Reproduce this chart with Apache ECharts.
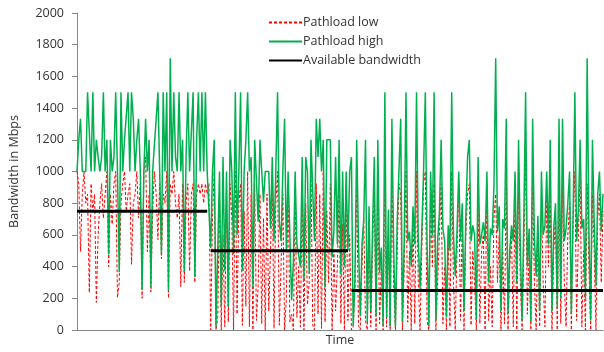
<!DOCTYPE html>
<html><head><meta charset="utf-8">
<script src="https://cdn.jsdelivr.net/npm/echarts@6/dist/echarts.min.js"></script>
<style>html,body{margin:0;padding:0;background:#fff}#c{width:604px;height:352px}</style>
</head><body><div id="c"></div>
<script>
// Pathload high estimates (Mbps)
const highSeg1 = [
1000,1200,1333,1000,1000,1000,1500,1500,1000,1500,
1000,1200,1091,1000,1091,1500,1000,1200,477,1200,
1000,1091,1500,1000,366,1500,1000,1200,1200,1500,
1000,1500,1333,1000,1200,1333,1000,255,1000,1333,
1000,1200,273,1000,1000,1333,1500,1000,483,1500,
1000,1500,249,1714,1000,1500,1091,1000,1500,1000,
1200,366,1091,1500,1000,1000,1500,335,1200,1500,
1000,1500,1000,1500,1000];
const highSeg2 = [
1000,518,1000,1200,20,500,1000,148,1091,374,
1000,148,1200,1000,480,1500,600,1000,1500,375,
1000,1200,1500,1000,1091,270,1200,1200,683,1200,
1200,806,1000,1000,1000,640,1091,560,1000,1500,
683,560,1000,1333,500,1000,1000,188,436,1000,
540,530,400,1091,318,1091,1000,354,1200,1200,
560,1333,1091,1333,1000,1200,270,1200,1200,1200,
457,620,1091,540,1200,350,1000,400,1000,500];
const highSeg3 = [
1000,1091,25,327,1200,560,87,540,700,1200,
50,780,120,640,1091,87,1200,360,520,25,
1500,80,760,25,1333,520,25,680,1000,1333,
50,560,1500,560,620,400,780,540,1500,560,
260,620,1000,1500,540,25,1000,600,1500,60,
560,740,1200,640,560,80,660,500,1500,600,
340,620,1000,560,800,120,700,1091,1200,560,
660,600,70,1091,540,600,680,560,1000,300,
640,600,900,1714,620,780,120,700,640,1333,
100,500,660,560,1000,300,1200,540,60,700,
1500,400,640,50,1333,580,340,720,120,1000,
600,660,1000,540,1200,120,640,800,140,1333,
200,1333,560,640,800,1000,100,720,1500,560,
760,1200,640,700,200,1714,620,60,1200,680,
280,860,1000,620,860];
// Pathload low estimates (Mbps)
const lowSeg1 = [
1000,923,495,857,1000,800,857,236,923,750,
857,174,600,800,923,706,857,1000,400,857,
667,923,1000,205,300,800,923,1000,750,857,
923,415,800,857,1000,706,923,200,1000,1091,
495,857,240,750,1000,857,570,923,450,857,
800,1000,200,923,857,1000,800,706,857,273,
923,300,800,923,372,857,923,300,857,923,
857,923,800,923,857];
const lowSeg2 = [
923,0,706,1000,0,80,857,0,600,20,
857,50,923,706,0,1000,100,800,923,30,
750,150,1000,20,857,0,923,60,280,857,
40,706,0,857,120,500,923,10,800,1000,
30,400,857,0,200,923,50,100,0,857,
80,400,20,923,0,800,160,300,1000,30,
0,923,100,857,10,1000,50,750,300,923,
0,500,120,400,857,40,667,0,923,60];
const lowSeg3 = [
600,0,20,250,923,30,0,400,706,60,
0,600,20,500,923,0,857,40,400,0,
1000,20,600,0,1000,300,0,500,923,857,
0,400,1000,50,500,0,706,40,1000,300,
0,500,923,1000,60,0,857,400,923,0,
300,600,923,40,400,0,600,20,1000,300,
0,500,923,60,706,0,600,857,923,30,
500,300,0,800,40,500,600,0,923,60,
400,20,706,857,300,600,0,500,40,923,
0,400,600,20,857,0,923,300,0,500,
1091,100,500,0,923,300,0,600,20,800,
300,20,857,400,857,0,500,706,0,923,
40,923,300,20,600,800,0,706,1000,60,
600,1000,20,500,0,923,400,0,857,500,
0,706,857,300,750];
// Available bandwidth: level per period and number of samples in it
const availLevels = [750, 500, 250];
const availCounts = [75, 79, 144];
const yTicks = {min: 0, max: 2000, interval: 200};
const seriesNames = ['Pathload low', 'Pathload high', 'Available bandwidth'];

const high = highSeg1.concat(highSeg2, highSeg3);
const low = lowSeg1.concat(lowSeg2, lowSeg3);
const avail = [];
availLevels.forEach((v, k) => {
  if (k > 0) avail.push(null);
  for (let j = 0; j < availCounts[k]; j++) avail.push(v);
});
const categories = high.map((_, i) => String(i + 1));

const font = "'Open Sans', 'Liberation Sans', sans-serif";
const chart = echarts.init(document.getElementById('c'), null, {renderer: 'canvas'});
chart.setOption({
  animation: false,
  backgroundColor: '#fff',
  textStyle: {fontFamily: font},
  grid: {left: 77, right: 1, top: 13, bottom: 15, containLabel: false},
  legend: {
    orient: 'vertical', left: 263, top: 11, itemWidth: 33, itemHeight: 10, itemGap: 6,
    data: seriesNames,
    itemStyle: {opacity: 0, borderWidth: 0},
    textStyle: {fontFamily: font, fontSize: 12.5, color: '#333', padding: [0,0,0,-4]}
  },
  xAxis: {
    type: 'category', data: categories, boundaryGap: false,
    name: 'Time', nameLocation: 'middle', nameGap: 4,
    nameTextStyle: {fontFamily: font, fontSize: 12.5, color: '#333'},
    axisLine: {lineStyle: {color: '#868686', width: 1}},
    axisTick: {show: false}, axisLabel: {show: false}, splitLine: {show: false}
  },
  yAxis: {
    type: 'value', min: yTicks.min, max: yTicks.max, interval: yTicks.interval,
    name: 'Bandwidth in Mbps', nameLocation: 'middle', nameGap: 56, nameRotate: 90,
    nameTextStyle: {fontFamily: font, fontSize: 12.5, color: '#333'},
    axisLine: {show: true, lineStyle: {color: '#868686', width: 1}},
    axisTick: {show: true, inside: false, length: 5, lineStyle: {color: '#868686'}},
    axisLabel: {margin: 13, fontFamily: font, fontSize: 12.5, color: '#333',
                formatter: v => String(v)},
    splitLine: {show: false}
  },
  series: [
    {name: seriesNames[0], type: 'line', data: low, symbol: 'none',
     lineStyle: {color: '#ff0000', width: 1, type: [3, 2]}, itemStyle: {color: '#ff0000'}},
    {name: seriesNames[1], type: 'line', data: high, symbol: 'none',
     lineStyle: {color: '#00b050', width: 1.5}, itemStyle: {color: '#00b050'}},
    {name: seriesNames[2], type: 'line', data: avail, symbol: 'none', connectNulls: false,
     lineStyle: {color: '#000', width: 3}, itemStyle: {color: '#000'}}
  ]
});
</script></body></html>
